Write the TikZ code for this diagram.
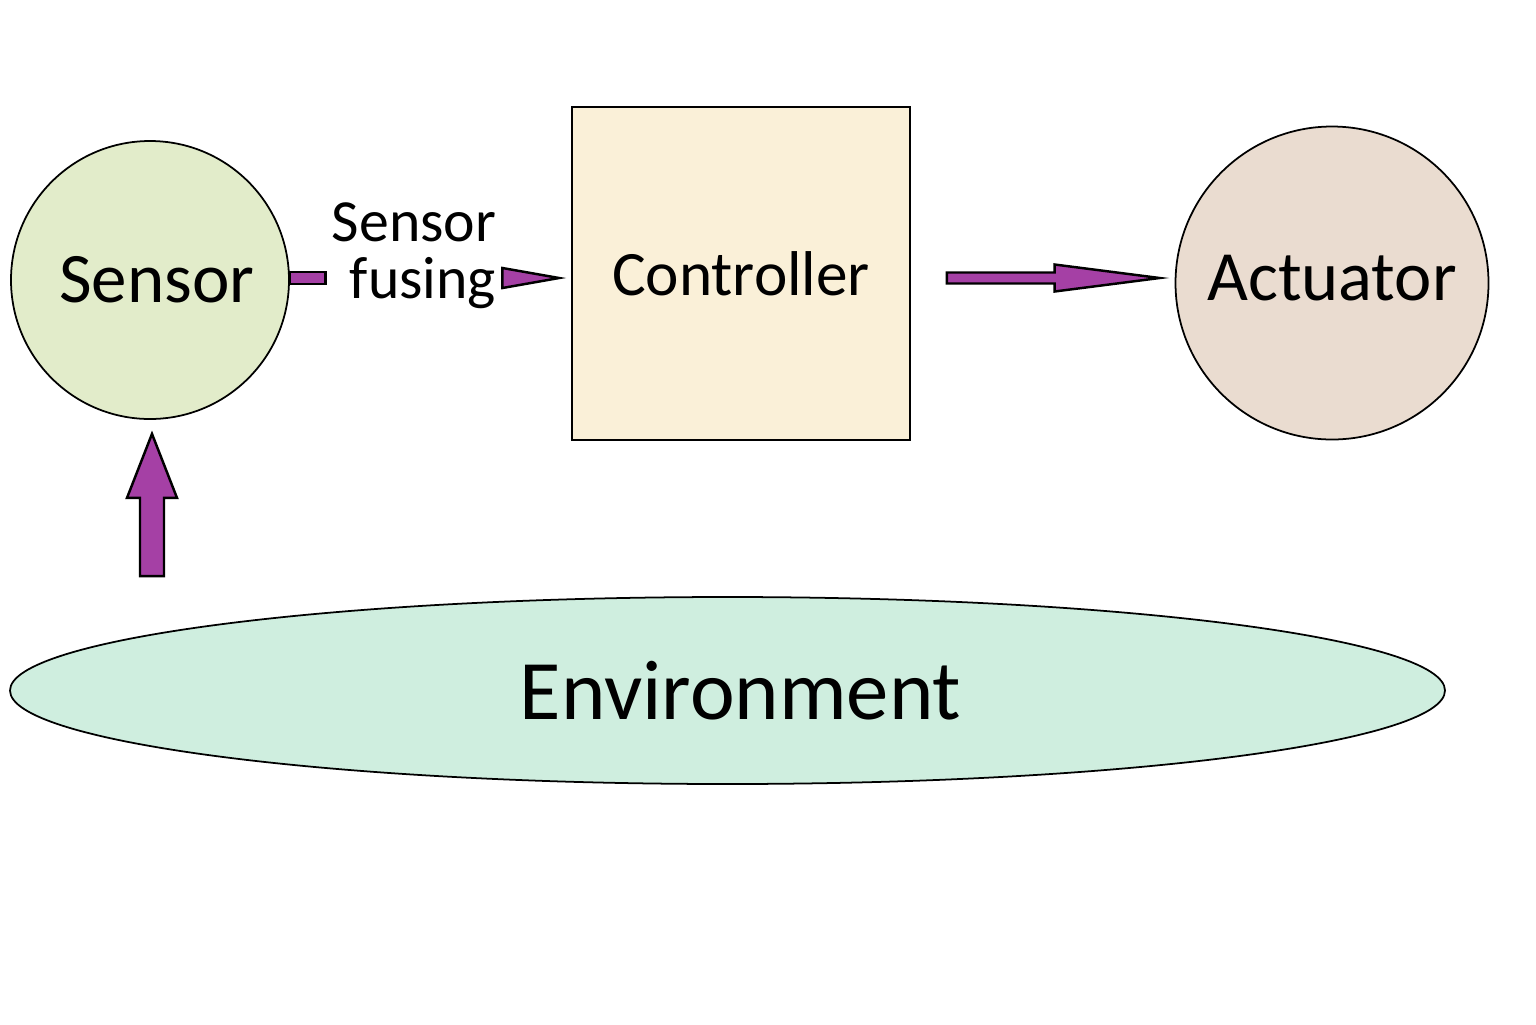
\documentclass[tikz,border=0pt]{standalone}
\usepackage{fontspec}
\setmainfont{Carlito}
\usetikzlibrary{shapes.geometric, calc}
\definecolor{SensorGreen}{HTML}{E2ECCA}
\definecolor{CtrlCream}{HTML}{FAF0D8}
\definecolor{ActTan}{HTML}{EADCD0}
\definecolor{EnvMint}{HTML}{CFEEDF}
\definecolor{FlowPurple}{HTML}{A540A5}

\begin{document}
\begin{tikzpicture}[
    unit/.style={circle, draw=black, line width=0.5pt, inner sep=0pt, align=center},
    blk/.style={draw=black, fill=FlowPurple, line width=0.7pt, line join=miter}
  ]
    \useasboundingbox (0,0) rectangle (15.36,-10.24);

    \node[unit, fill=SensorGreen, minimum size=2.78cm,
      font=\fontsize{20.2}{22}\selectfont] (sensor) at (1.50,-2.80) {\hspace*{0.14cm}Sensor};
    \node[rectangle, draw=black, line width=0.5pt, fill=CtrlCream, minimum width=3.38cm,
      minimum height=3.33cm, font=\fontsize{18}{22}\selectfont] (ctrl) at (7.41,-2.735) {Controller};
    \node[unit, fill=ActTan, minimum size=3.13cm,
      font=\fontsize{20.1}{22}\selectfont] (act) at (13.32,-2.83) {\raisebox{0.10cm}{Actuator}};
    \node[ellipse, draw=black, line width=0.5pt, fill=EnvMint, minimum width=14.35cm,
      minimum height=1.87cm, inner sep=0pt, font=\fontsize{24.1}{28}\selectfont] (env) at (7.275,-6.905) {\hspace*{0.26cm}Environment};

    \node[align=right, inner xsep=1.6pt, font=\fontsize{17}{16.2}\selectfont] (fuse) at (4.14,-2.56) {Sensor\\fusing};

    % sensor -> controller, cut by the label
    \coordinate (s0) at ($(sensor.east)+(0,0.02)$);
    \draw[blk] ($(s0)+(0,0.06)$) rectangle ($(s0 -| fuse.west)+(0,-0.06)$);
    \draw[blk] ($(s0 -| fuse.east)+(0,0.10)$) -- ($(s0 -| ctrl.west)+(-0.12,0)$)
      -- ($(s0 -| fuse.east)+(0,-0.10)$) -- cycle;

    % controller -> actuator
    \coordinate (c0) at ($(ctrl.east)+(0.36,-0.045)$);
    \coordinate (a0) at (c0 -| act.west);
    \draw[blk] ($(c0)+(0,0.055)$) -- ($(a0)+(-1.20,0.055)$) -- ($(a0)+(-1.20,0.135)$)
      -- ($(a0)+(-0.15,0)$) -- ($(a0)+(-1.20,-0.135)$) -- ($(a0)+(-1.20,-0.055)$)
      -- ($(c0)+(0,-0.055)$) -- cycle;

    % environment -> sensor
    \coordinate (u1) at ($(sensor.south)+(0.02,-0.14)$);
    \coordinate (u0) at ($(u1 |- env.north)+(0,0.20)$);
    \draw[blk] ($(u0)+(-0.12,0)$) -- ($(u1)+(-0.12,-0.64)$) -- ($(u1)+(-0.25,-0.64)$)
      -- (u1) -- ($(u1)+(0.25,-0.64)$) -- ($(u1)+(0.12,-0.64)$)
      -- ($(u0)+(0.12,0)$) -- cycle;
\end{tikzpicture}
\end{document}
